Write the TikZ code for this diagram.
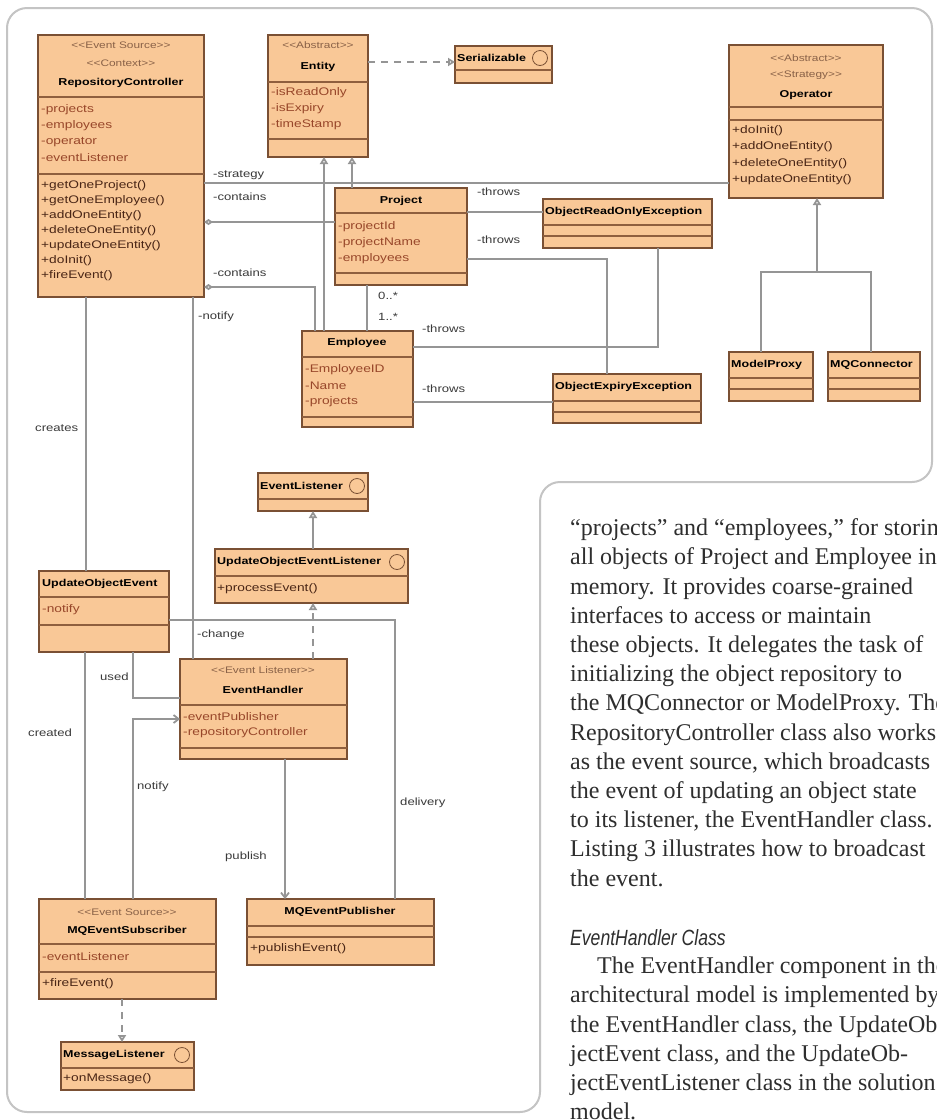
\documentclass[tikz,border=0pt]{standalone}
\usepackage{fontspec}
\setmainfont{Liberation Serif}
\newfontfamily\umlfont[FakeStretch=1.25]{Liberation Sans}
\newfontfamily\headfont[FakeStretch=0.8]{Liberation Sans}
\usetikzlibrary{arrows.meta}
\definecolor{boxfill}{HTML}{F9C897}
\definecolor{boxline}{HTML}{7A5034}
\definecolor{sepc}{HTML}{8F5F3E}
\definecolor{attrc}{HTML}{98472A}
\definecolor{methc}{HTML}{4A2616}
\definecolor{stc}{HTML}{8A6248}
\definecolor{lblc}{HTML}{3A3A3A}
\definecolor{connc}{HTML}{959595}
\definecolor{framec}{HTML}{C4C4C4}
\definecolor{bodyc}{HTML}{2E2E2E}
\newcommand{\csep}[2]{\draw[sepline] (#1.west |- 0,#2) -- (#1.east |- 0,#2);}
\newcommand{\lolli}[2]{\draw[boxline, fill=boxfill, line width=0.8pt] (#1,#2) circle (7.5);}
\tikzset{
  umlbox/.style={draw=boxline, fill=boxfill, line width=1.2pt, anchor=north west,
    inner sep=0pt, outer sep=0pt},
  sepline/.style={draw=sepc, line width=1.5pt},
  cname/.style={font=\umlfont\bfseries\fontsize{10}{12}\selectfont, text=black, inner sep=0pt},
  lname/.style={cname, anchor=west},
  stereo/.style={font=\umlfont\fontsize{9.5}{12}\selectfont, text=stc, inner sep=0pt},
  attr/.style={font=\umlfont\fontsize{11}{13}\selectfont, text=attrc, anchor=west, inner sep=0pt},
  meth/.style={attr, text=methc},
  lbl/.style={font=\umlfont\fontsize{10.5}{12}\selectfont, text=lblc, anchor=west, inner sep=0pt},
  conn/.style={draw=connc, line width=1.8pt},
  gen/.style={conn, -{Triangle[length=7pt,width=8pt,fill=white]}},
  real/.style={gen, dash pattern=on 7pt off 6pt},
  agg/.style={conn, {Diamond[length=9pt,width=6pt,fill=white]}-},
  call/.style={conn, -{Straight Barb[length=5pt,width=8pt]}},
  body/.style={font=\fontsize{24}{29}\selectfont, text=bodyc, anchor=base west, inner sep=0pt},
  frame/.style={draw=framec, line width=2pt, rounded corners=20pt}
}
\begin{document}
\begin{tikzpicture}[x=1pt,y=-1pt]
\useasboundingbox (0,0) rectangle (937,1120);
\fill[white] (0,0) rectangle (937,1120);
\clip (0,0) rectangle (937,1120);

% figure frame
\draw[frame] (7,8) -- (932,8) -- (932,482) -- (540,482) -- (540,1112) -- (7,1112) -- cycle;

% ---------- class boxes ----------
\node[umlbox, minimum width=166pt, minimum height=262pt] (rc) at (38,35) {};
\node[umlbox, minimum width=100pt, minimum height=122pt] (ent) at (268,35) {};
\node[umlbox, minimum width=97pt, minimum height=37pt] (ser) at (455,46) {};
\node[umlbox, minimum width=154pt, minimum height=153pt] (op) at (729,45) {};
\node[umlbox, minimum width=132pt, minimum height=97pt] (proj) at (335,188) {};
\node[umlbox, minimum width=111pt, minimum height=96pt] (emp) at (302,331) {};
\node[umlbox, minimum width=169pt, minimum height=49pt] (orx) at (543,199) {};
\node[umlbox, minimum width=148pt, minimum height=49pt] (oex) at (553,374) {};
\node[umlbox, minimum width=84pt, minimum height=49pt] (mp) at (729,352) {};
\node[umlbox, minimum width=92pt, minimum height=49pt] (mqc) at (828,352) {};
\node[umlbox, minimum width=110pt, minimum height=38pt] (el) at (258,473) {};
\node[umlbox, minimum width=193pt, minimum height=54pt] (uoel) at (215,549) {};
\node[umlbox, minimum width=130pt, minimum height=81pt] (uoe) at (39,571) {};
\node[umlbox, minimum width=167pt, minimum height=100pt] (eh) at (180,659) {};
\node[umlbox, minimum width=177pt, minimum height=100pt] (mqs) at (39,899) {};
\node[umlbox, minimum width=187pt, minimum height=66pt] (mqp) at (247,899) {};
\node[umlbox, minimum width=133pt, minimum height=48pt] (ml) at (61,1042) {};

% compartments
\csep{rc}{97}\csep{rc}{174}
\csep{ent}{82}\csep{ent}{139}
\csep{ser}{70}
\csep{op}{107}\csep{op}{120}
\csep{proj}{213}\csep{proj}{273}
\csep{emp}{357}\csep{emp}{417}
\csep{orx}{225}\csep{orx}{236}
\csep{oex}{401}\csep{oex}{412}
\csep{mp}{378}\csep{mp}{389}
\csep{mqc}{378}\csep{mqc}{389}
\csep{el}{499}
\csep{uoel}{576}
\csep{uoe}{597}\csep{uoe}{625}
\csep{eh}{705}\csep{eh}{748}
\csep{mqs}{944}\csep{mqs}{972}
\csep{mqp}{926}\csep{mqp}{937}
\csep{ml}{1068}

% interface symbols
\lolli{540}{58}
\lolli{357}{486}
\lolli{397}{562}
\lolli{182}{1055}

% ---------- class texts ----------
\node[stereo] (rcs1) at (121,45) {<{}<Event Source>{}>};
\node[stereo] (rcs2) at (121,63) {<{}<Context>{}>};
\node[cname] (rcn) at (121,83) {RepositoryController};
\node[attr] (rca1) at (41,110) {-projects};
\node[attr] (rca2) at (41,126) {-employees};
\node[attr] (rca3) at (41,142) {-operator};
\node[attr] (rca4) at (41,158) {-eventListener};
\node[meth] (rcm1) at (41,186) {+getOneProject()};
\node[meth] (rcm2) at (41,201) {+getOneEmployee()};
\node[meth] (rcm3) at (41,216) {+addOneEntity()};
\node[meth] (rcm4) at (41,231) {+deleteOneEntity()};
\node[meth] (rcm5) at (41,246) {+updateOneEntity()};
\node[meth] (rcm6) at (41,261) {+doInit()};
\node[meth] (rcm7) at (41,276) {+fireEvent()};

\node[stereo] (ents) at (318,45) {<{}<Abstract>{}>};
\node[cname] (entn) at (318,67) {Entity};
\node[attr] (enta1) at (271,93) {-isReadOnly};
\node[attr] (enta2) at (271,109) {-isExpiry};
\node[attr] (enta3) at (271,125) {-timeStamp};

\node[lname] (sern) at (457,58) {Serializable};

\node[stereo] (ops1) at (806,58) {<{}<Abstract>{}>};
\node[stereo] (ops2) at (806,75) {<{}<Strategy>{}>};
\node[cname] (opn) at (806,95) {Operator};
\node[meth] (opm1) at (732,131) {+doInit()};
\node[meth] (opm2) at (732,147) {+addOneEntity()};
\node[meth] (opm3) at (732,164) {+deleteOneEntity()};
\node[meth] (opm4) at (732,180) {+updateOneEntity()};

\node[cname] (projn) at (401,201) {Project};
\node[attr] (proja1) at (338,227) {-projectId};
\node[attr] (proja2) at (338,243) {-projectName};
\node[attr] (proja3) at (338,259) {-employees};

\node[cname] (empn) at (357,343) {Employee};
\node[attr] (empa1) at (305,370) {-EmployeeID};
\node[attr] (empa2) at (305,386) {-Name};
\node[attr] (empa3) at (305,402) {-projects};

\node[lname] (orxn) at (545,212) {ObjectReadOnlyException};
\node[lname] (oexn) at (555,387) {ObjectExpiryException};
\node[lname] (mpn) at (731,365) {ModelProxy};
\node[lname] (mqcn) at (830,365) {MQConnector};

\node[lname] (eln) at (260,486) {EventListener};
\node[lname] (uoeln) at (217,562) {UpdateObjectEventListener};
\node[meth] (uoelm) at (217,589) {+processEvent()};

\node[lname] (uoen) at (42,584) {UpdateObjectEvent};
\node[attr] (uoea) at (42,610) {-notify};

\node[stereo] (ehs) at (263,670) {<{}<Event Listener>{}>};
\node[cname] (ehn) at (263,690) {EventHandler};
\node[attr] (eha1) at (183,717) {-eventPublisher};
\node[attr] (eha2) at (183,733) {-repositoryController};

\node[stereo] (mqss) at (127,912) {<{}<Event Source>{}>};
\node[cname] (mqsn) at (127,931) {MQEventSubscriber};
\node[attr] (mqsa) at (42,957) {-eventListener};
\node[meth] (mqsm) at (42,984) {+fireEvent()};

\node[cname] (mqpn) at (340,912) {MQEventPublisher};
\node[meth] (mqpm) at (250,949) {+publishEvent()};

\node[lname] (mln) at (63,1055) {MessageListener};
\node[meth] (mlm) at (63,1079) {+onMessage()};

% ---------- connectors ----------
\coordinate (k1) at (315,287);
\coordinate (k2) at (607,259);
\coordinate (k3) at (658,347);
\coordinate (k4) at (761,272);
\coordinate (k5) at (871,272);
\coordinate (k6) at (817,272);
\coordinate (k7) at (395,620);
\coordinate (k8) at (133,698);
\coordinate (k9) at (133,719);

\draw[conn] (rc.east |- 0,183) -- (op.west |- 0,183);
\draw[agg] (rc.east |- 0,222) -- (proj.west |- 0,222);
\draw[agg] (rc.east |- k1) -- (k1) -- (k1 |- emp.north);
\draw[conn] (193,0 |- rc.south) -- (193,0 |- eh.north);
\draw[conn] (86,0 |- rc.south) -- (86,0 |- uoe.north);

\draw[gen] (352,0 |- proj.north) -- (352,0 |- ent.south);
\draw[gen] (324,0 |- emp.north) -- (324,0 |- ent.south);
\draw[real] (ent.east |- 0,62) -- (ser.west |- 0,62);

\draw[conn] (proj.east |- 0,212) -- (orx.west |- 0,212);
\draw[conn] (proj.east |- k2) -- (k2) -- (k2 |- oex.north);
\draw[conn] (emp.east |- k3) -- (k3) -- (k3 |- orx.south);
\draw[conn] (emp.east |- 0,402) -- (oex.west |- 0,402);
\draw[conn] (367,0 |- proj.south) -- (367,0 |- emp.north);

\draw[conn] (k4 |- mp.north) -- (k4) -- (k5) -- (k5 |- mqc.north);
\draw[gen] (k6) -- (k6 |- op.south);

\draw[gen] (313,0 |- uoel.north) -- (313,0 |- el.south);
\draw[real] (313,0 |- eh.north) -- (313,0 |- uoel.south);

\draw[conn] (uoe.east |- k7) -- (k7) -- (k7 |- mqp.north);
\draw[conn] (k8 |- uoe.south) -- (k8) -- (eh.west |- k8);
\draw[conn] (85,0 |- uoe.south) -- (85,0 |- mqs.north);
\draw[call] (k9 |- mqs.north) -- (k9) -- (eh.west |- k9);
\draw[call] (285,0 |- eh.south) -- (285,0 |- mqp.north);
\draw[real] (122,0 |- mqs.south) -- (122,0 |- ml.north);

% connector labels
\node[lbl] (l1) at (213,175) {-strategy};
\node[lbl] (l2) at (213,197) {-contains};
\node[lbl] (l3) at (213,273) {-contains};
\node[lbl] (l4) at (198,317) {-notify};
\node[lbl] (l5) at (35,428) {creates};
\node[lbl] (l6) at (477,192) {-throws};
\node[lbl] (l7) at (477,240) {-throws};
\node[lbl] (l8) at (422,329) {-throws};
\node[lbl] (l9) at (422,389) {-throws};
\node[lbl] (l10) at (378,296) {0..*};
\node[lbl] (l11) at (378,317) {1..*};
\node[lbl] (l12) at (197,635) {-change};
\node[lbl] (l13) at (100,677) {used};
\node[lbl] (l14) at (28,733) {created};
\node[lbl] (l15) at (137,787) {notify};
\node[lbl] (l16) at (225,857) {publish};
\node[lbl] (l17) at (400,803) {delivery};

% ---------- running text ----------
\node[body] (t0) at (570,535.6) {“projects” and “employees,” for storing};
\node[body] (t1) at (570,564.8) {all objects of Project and Employee in};
\node[body] (t2) at (570,594.0) {memory. It provides coarse-grained};
\node[body] (t3) at (570,623.2) {interfaces to access or maintain};
\node[body] (t4) at (570,652.4) {these objects. It delegates the task of};
\node[body] (t5) at (570,681.6) {initializing the object repository to};
\node[body] (t6) at (570,710.8) {the MQConnector or ModelProxy. The};
\node[body] (t7) at (570,740.0) {RepositoryController class also works};
\node[body] (t8) at (570,769.2) {as the event source, which broadcasts};
\node[body] (t9) at (570,798.4) {the event of updating an object state};
\node[body] (t10) at (570,827.6) {to its listener, the EventHandler class.};
\node[body] (t11) at (570,856.8) {Listing 3 illustrates how to broadcast};
\node[body] (t12) at (570,886.0) {the event.};
\node[body, font=\headfont\itshape\fontsize{22}{26}\selectfont] (t14) at (570,945) {EventHandler Class};
\node[body] (t15) at (597,973.6) {The EventHandler component in the};
\node[body] (t16) at (570,1002.8) {architectural model is implemented by};
\node[body] (t17) at (570,1032.0) {the EventHandler class, the UpdateOb-};
\node[body] (t18) at (570,1061.2) {jectEvent class, and the UpdateOb-};
\node[body] (t19) at (570,1090.4) {jectEventListener class in the solution};
\node[body] (t20) at (570,1119.6) {model.};
\end{tikzpicture}
\end{document}
